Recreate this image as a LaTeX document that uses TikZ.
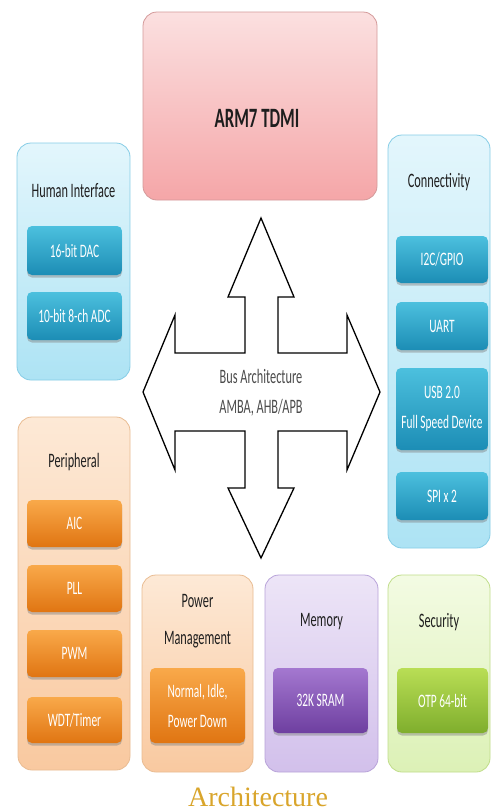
\documentclass[tikz,border=0pt]{standalone}
\usepackage{fontspec}
\setmainfont{Carlito}[FakeStretch=0.6]
\newfontfamily\capfont{Liberation Serif}
\usetikzlibrary{shadows}
\newcommand\mytitlefont{\fontsize{20.5}{37}\selectfont}
\newcommand\mybtnfont{\fontsize{19}{30}\selectfont}
\definecolor{armtop}{HTML}{FBE0E0}\definecolor{armbot}{HTML}{F5A6A8}\definecolor{armdraw}{HTML}{D49A9A}
\definecolor{bctop}{HTML}{E3F6FC}\definecolor{bcbot}{HTML}{ADE3F4}\definecolor{bcdraw}{HTML}{86CDE6}
\definecolor{bbtop}{HTML}{4CC0DE}\definecolor{bbbot}{HTML}{1C8DB5}
\definecolor{pctop}{HTML}{FDE9D6}\definecolor{pcbot}{HTML}{F9C9A0}\definecolor{pcdraw}{HTML}{E9BC92}
\definecolor{obtop}{HTML}{F9A94A}\definecolor{obbot}{HTML}{E07512}
\definecolor{lctop}{HTML}{EDE5F7}\definecolor{lcbot}{HTML}{D2C0EB}\definecolor{lcdraw}{HTML}{B8A3D9}
\definecolor{pbtop}{HTML}{A478D0}\definecolor{pbbot}{HTML}{6E3FA0}
\definecolor{gctop}{HTML}{F3FBE3}\definecolor{gcbot}{HTML}{DCF1B6}\definecolor{gcdraw}{HTML}{C0DD8A}
\definecolor{gbtop}{HTML}{B9DE55}\definecolor{gbbot}{HTML}{7FAE2D}
\definecolor{titletext}{HTML}{1E1E1E}
\definecolor{captext}{HTML}{D9A52B}
\tikzset{
  cbox/.style={rounded corners=14pt, line width=0.8pt, inner sep=0pt},
  bluec/.style={cbox, draw=bcdraw, top color=bctop, bottom color=bcbot},
  peachc/.style={cbox, draw=pcdraw, top color=pctop, bottom color=pcbot},
  lavc/.style={cbox, draw=lcdraw, top color=lctop, bottom color=lcbot},
  greenc/.style={cbox, draw=gcdraw, top color=gctop, bottom color=gcbot},
  btn/.style={rounded corners=5pt, inner sep=0pt, text=white, font=\mybtnfont, align=center,
    drop shadow={shadow xshift=0pt, shadow yshift=-2.5pt, opacity=0.45}},
  blueb/.style={btn, top color=bbtop, bottom color=bbbot},
  orangeb/.style={btn, top color=obtop, bottom color=obbot},
  purpleb/.style={btn, top color=pbtop, bottom color=pbbot},
  greenb/.style={btn, top color=gbtop, bottom color=gbbot},
  ttl/.style={text=titletext, font=\mytitlefont, align=center, inner sep=0pt},
}
\begin{document}
\begin{tikzpicture}[x=1pt, y=-1pt]
\useasboundingbox (0,0) rectangle (492,812);
\fill[white] (0,0) rectangle (492,812);
% ARM core
\node[cbox, draw=armdraw, top color=armtop, bottom color=armbot, minimum width=234pt, minimum height=188pt] (arm) at (260,106) {};
\node[text=titletext, inner sep=0pt, font=\fontsize{28}{30}\selectfont\bfseries] (armt) at (257,118) {ARM7 TDMI};
% containers
\node[bluec, minimum width=113pt, minimum height=237pt] (hi) at (73.5,261.5) {};
\node[bluec, minimum width=102pt, minimum height=413pt] (conn) at (439,341.5) {};
\node[peachc, minimum width=112pt, minimum height=353pt] (peri) at (74,593.5) {};
\node[peachc, minimum width=111pt, minimum height=197pt] (pow) at (197.5,673.5) {};
\node[lavc, minimum width=113pt, minimum height=197pt] (mem) at (321.5,673.5) {};
\node[greenc, minimum width=102pt, minimum height=197pt] (sec) at (439,673.5) {};
% titles
\node[ttl] (hit) at (73.5,191) {Human Interface};
\node[ttl] (connt) at (439,182) {Connectivity};
\node[ttl] (perit) at (74,462) {Peripheral};
\node[ttl] (powt) at (197.5,621.5) {Power\\Management};
\node[ttl] (memt) at (321.5,622) {Memory};
\node[ttl] (sect) at (439,622) {Security};
% human interface buttons
\node[blueb, minimum width=95pt, minimum height=49pt] (dac) at (74.5,250.5) {16-bit DAC};
\node[blueb, minimum width=95pt, minimum height=48pt] (adc) at (74.5,316) {10-bit 8-ch ADC};
% connectivity buttons
\node[blueb, minimum width=92pt, minimum height=47pt] (i2c) at (442,259.5) {I2C/GPIO};
\node[blueb, minimum width=92pt, minimum height=48pt] (uart) at (442,326) {UART};
\node[blueb, minimum width=92pt, minimum height=82pt] (usb) at (442,409) {USB 2.0\\Full Speed Device};
\node[blueb, minimum width=92pt, minimum height=48pt] (spi) at (442,496) {SPI x 2};
% peripheral buttons
\node[orangeb, minimum width=95pt, minimum height=47pt] (aic) at (74.5,523.5) {AIC};
\node[orangeb, minimum width=95pt, minimum height=47pt] (pll) at (74.5,588.5) {PLL};
\node[orangeb, minimum width=95pt, minimum height=47pt] (pwm) at (74.5,653.5) {PWM};
\node[orangeb, minimum width=95pt, minimum height=46pt] (wdt) at (74.5,720) {WDT/Timer};
% bottom buttons
\node[orangeb, minimum width=95pt, minimum height=75pt] (powb) at (197.5,705.5) {Normal, Idle,\\Power Down};
\node[purpleb, minimum width=95pt, minimum height=65pt] (memb) at (320.5,700.5) {32K SRAM};
\node[greenb, minimum width=91pt, minimum height=65pt] (secb) at (442.5,700.5) {OTP 64-bit};
% bus arrow
\draw[line width=1.3pt, fill=white, line join=miter]
  (261,218) -- (294,297) -- (278,297) -- (278,353) -- (347,353) -- (347,315) -- (380,392)
  -- (347,470) -- (347,431) -- (278,431) -- (278,488) -- (294,488) -- (261,558)
  -- (228,488) -- (245,488) -- (245,431) -- (175,431) -- (175,470) -- (143,392)
  -- (175,315) -- (175,353) -- (245,353) -- (245,297) -- (228,297) -- cycle;
\node[text=black!70, font=\fontsize{20.5}{30}\selectfont, align=center, inner sep=0pt] (bus) at (261,393) {Bus Architecture\\AMBA, AHB/APB};
% caption
\node[anchor=base, text=captext, font=\capfont\fontsize{28}{30}\selectfont, inner sep=0pt] (cap) at (258,806) {Architecture};
\end{tikzpicture}
\end{document}
